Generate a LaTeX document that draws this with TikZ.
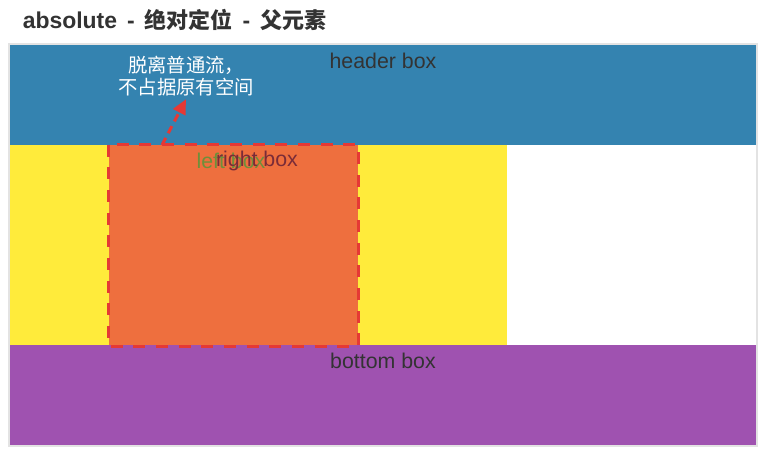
\documentclass[tikz,border=0pt]{standalone}
\usepackage{fontspec}
\setmainfont{Liberation Sans}
\newfontfamily\cjk{Noto Sans CJK SC}
\usetikzlibrary{arrows.meta}

\definecolor{headerblue}{HTML}{3483B0}
\definecolor{leftyellow}{HTML}{FFEB3B}
\definecolor{rightorange}{HTML}{EE6F3E}
\definecolor{bottompurple}{HTML}{9F52B0}
\definecolor{dashred}{HTML}{E53935}
\definecolor{framegray}{HTML}{E3E3E3}
\definecolor{textgray}{HTML}{333333}
\definecolor{leftgreen}{HTML}{6F8F3A}
\definecolor{rightred}{HTML}{7A2C38}

\newcommand{\titlesep}{\hspace{7.5pt}}

\begin{document}
\begin{tikzpicture}[
        x=0.75pt,
        y=-0.75pt,
        box-label/.style={
            font=\fontsize{16}{19}\selectfont,
            text=textgray,
            inner sep=0pt,
        },
        box-frame/.style={
            draw=framegray,
            line width=1.5pt,
        },
        box-moved/.style={
            draw=dashred,
            line width=2.25pt,
            dash pattern=on 9pt off 8pt,
        },
        link-note/.style={
            draw=dashred,
            line width=2.25pt,
            dash pattern=on 6pt off 4pt,
            -{Triangle[length=11pt, width=10pt]},
        },
    ]
    \useasboundingbox (0,0) rectangle (767,455);

    % Title.
    \node[anchor=west, inner sep=0pt, text=textgray,
        font=\fontsize{17.2}{19}\selectfont\bfseries] (title) at (22.5,20)
        {absolute\titlesep-\titlesep{\fontsize{16.5}{19}\cjk 绝对定位}\titlesep-\titlesep{\fontsize{16.5}{19}\cjk 父元素}};

    % Parent box and its children.
    \draw[box-frame] (9,44) rectangle (757,446);
    \fill[headerblue] (10,45) rectangle (756,145);
    \fill[leftyellow] (10,145) rectangle (507,345);
    \fill[bottompurple] (10,345) rectangle (756,445);
    \fill[rightorange] (109,145) rectangle (358,345);
    \draw[box-moved] (108.5,144.5) rectangle (358.5,346.5);

    % Box labels.
    \node[box-label] (header) at (383,61) {header box};
    \node[box-label] (bottom) at (383,361) {bottom box};
    \node[box-label, text=leftgreen] (left) at (231,161) {left box};
    \node[box-label, text=rightred] (right) at (257,161) {right box};

    % Note.
    \node[align=center, text=white, inner sep=2pt,
        font=\cjk\fontsize{14.5}{17}\selectfont] (note) at (186,76)
        {脱离普通流，\\不占据原有空间};
    \coordinate (from) at (162,145);
    \draw[link-note] (from) -- (note.south);
\end{tikzpicture}
\end{document}
